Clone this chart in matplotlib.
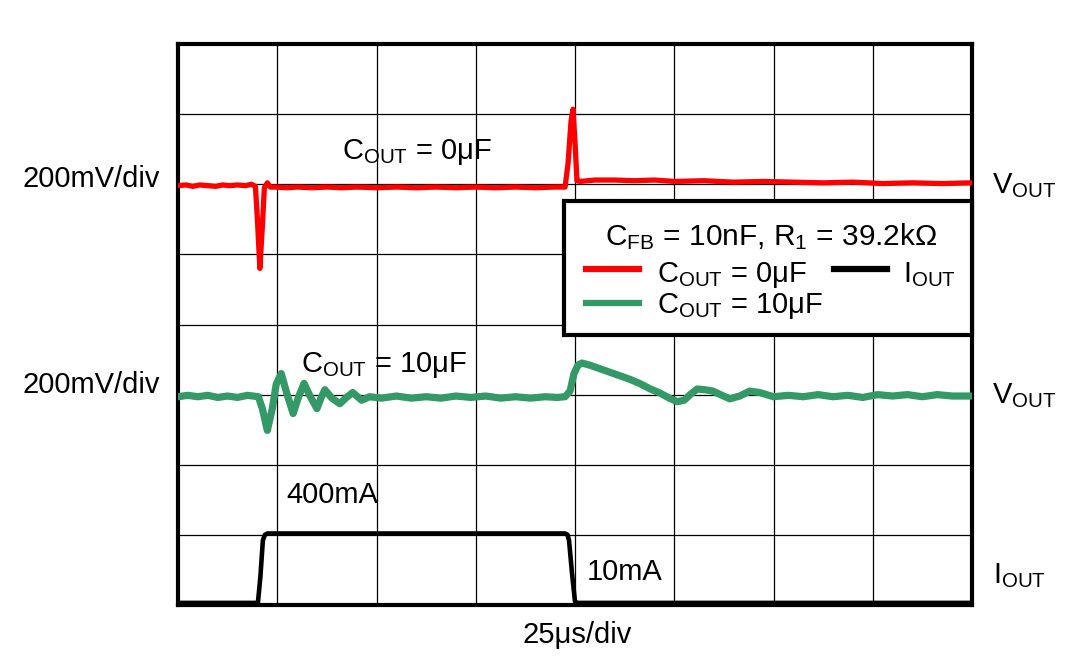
import matplotlib
matplotlib.use("Agg")
import matplotlib.pyplot as plt
import matplotlib.patches as patches
from matplotlib.lines import Line2D

plt.rcParams['font.family'] = ['Liberation Sans', 'DejaVu Sans']
plt.rcParams['mathtext.fontset'] = 'custom'
plt.rcParams['mathtext.rm'] = 'Liberation Sans'
plt.rcParams['mathtext.it'] = 'Liberation Sans:italic'
plt.rcParams['mathtext.bf'] = 'Liberation Sans:bold'

# time axis in divisions (25us/div), traces in divisions of screen height
t_red = [0.0, 0.08, 0.15, 0.22, 0.3, 0.38, 0.45, 0.52, 0.6, 0.68, 0.74, 0.78,
         0.80, 0.825, 0.85, 0.87, 0.90, 0.93, 1.0, 1.1, 1.2, 1.35, 1.5, 1.65,
         1.8, 2.0, 2.2, 2.4, 2.6, 2.8, 3.0, 3.2, 3.4, 3.6, 3.8, 3.90, 3.93,
         3.96, 3.98, 4.0, 4.02, 4.05, 4.2, 4.4, 4.6, 4.8, 5.0, 5.3, 5.6, 5.9,
         6.2, 6.5, 6.8, 7.1, 7.4, 7.7, 8.0]
v_red = [5.98, 5.99, 5.97, 5.99, 5.98, 5.97, 5.99, 5.98, 5.99, 5.98, 6.0, 5.97,
         5.5, 4.80, 5.4, 5.95, 6.02, 5.96, 5.96, 5.95, 5.96, 5.95, 5.96, 5.95,
         5.96, 5.95, 5.96, 5.95, 5.96, 5.95, 5.96, 5.95, 5.96, 5.95, 5.96, 5.96, 6.3,
         6.9, 7.07, 6.6, 6.05, 6.04, 6.06, 6.06, 6.05, 6.06, 6.04, 6.05, 6.03, 6.04,
         6.03, 6.02, 6.03, 6.01, 6.02, 6.01, 6.02]

t_green = [0.0, 0.1, 0.2, 0.3, 0.4, 0.5, 0.6, 0.7, 0.81, 0.85, 0.90, 0.95,
           0.99, 1.04, 1.10, 1.16, 1.21, 1.27, 1.33, 1.40, 1.44, 1.48, 1.55,
           1.63, 1.69, 1.76, 1.85, 1.93, 2.05, 2.2, 2.35, 2.5, 2.65, 2.8, 2.95,
           3.1, 3.25, 3.4, 3.55, 3.7, 3.82, 3.90, 3.95, 3.99, 4.03, 4.07, 4.15,
           4.25, 4.35, 4.45, 4.55, 4.65, 4.76, 4.86, 4.95, 5.03, 5.10, 5.16,
           5.23, 5.31, 5.39, 5.48, 5.56, 5.66, 5.76, 5.86, 6.0, 6.15, 6.3, 6.45,
           6.6, 6.75, 6.9, 7.05, 7.2, 7.35, 7.5, 7.65, 7.8, 8.0]
v_green = [2.97, 2.99, 2.97, 2.99, 2.96, 2.98, 2.96, 2.99, 2.97, 2.80, 2.49, 2.80,
           3.15, 3.30, 3.00, 2.73, 2.95, 3.16, 2.98, 2.80, 2.95, 3.07, 2.95,
           2.87, 2.95, 3.03, 2.92, 2.97, 2.95, 2.98, 2.95, 2.97, 2.95, 2.98, 2.96,
           2.98, 2.95, 2.97, 2.95, 2.97, 2.96, 2.97, 3.05, 3.30, 3.42, 3.45, 3.42,
           3.37, 3.32, 3.27, 3.22, 3.16, 3.08, 3.02, 2.95, 2.90, 2.92, 3.0,
           3.08, 3.07, 3.05, 2.99, 2.94, 2.98, 3.05, 3.03, 2.97, 2.99, 2.97, 3.0,
           2.97, 2.99, 2.96, 3.0, 2.98, 3.0, 2.97, 3.0, 2.98, 2.98]

t_black = [0.0, 0.805, 0.83, 0.855, 0.875, 0.9, 2.0, 3.9, 3.925, 3.94, 3.97, 4.0, 4.02, 8.0]
i_black = [0.03, 0.03, 0.40, 0.92, 1.0, 1.02, 1.02, 1.02, 1.0, 0.92, 0.45, 0.05, 0.03, 0.03]

W, H = 1077, 668


def fx(x):
    return x / W


def fy(y):
    return 1 - y / H


fig = plt.figure(figsize=(W / 100, H / 100), dpi=100)
ax = fig.add_axes([fx(178), fy(605), (972 - 178) / W, (605 - 44) / H])
ax.set_xlim(0, 8)
ax.set_ylim(0, 8)
ax.set_xticks(range(9))
ax.set_yticks(range(9))
ax.tick_params(length=0, labelbottom=False, labelleft=False)
ax.grid(True, color='black', linewidth=0.9)
ax.set_axisbelow(True)
for s in ax.spines.values():
    s.set_linewidth(3)

ax.plot(t_red, v_red, color='#ff0000', linewidth=3.8, solid_joinstyle='round', zorder=3)
ax.plot(t_green, v_green, color='#339966', linewidth=5.2, solid_joinstyle='round', zorder=3)
ax.plot(t_black, i_black, color='black', linewidth=3.3, solid_joinstyle='round', zorder=3)

fs = 21
# in-plot annotations
fig.text(fx(342), fy(159), r'C$_{\rm OUT}$ = 0μF', fontsize=fs, va='baseline')
fig.text(fx(301), fy(372), r'C$_{\rm OUT}$ = 10μF', fontsize=fs, va='baseline')
fig.text(fx(286), fy(503), '400mA', fontsize=fs, va='baseline')
fig.text(fx(587), fy(580), '10mA', fontsize=fs, va='baseline')

# outside labels
fig.text(fx(23), fy(187), '200mV/div', fontsize=fs, va='baseline')
fig.text(fx(23), fy(393), '200mV/div', fontsize=fs, va='baseline')
fig.text(fx(992), fy(193), r'V$_{\rm OUT}$', fontsize=fs, va='baseline')
fig.text(fx(992), fy(403), r'V$_{\rm OUT}$', fontsize=fs, va='baseline')
fig.text(fx(993), fy(583), r'I$_{\rm OUT}$', fontsize=fs, va='baseline')
fig.text(fx(522), fy(643), '25μs/div', fontsize=fs, va='baseline')

# legend box
box = patches.Rectangle((fx(564), fy(335)), (972 - 564) / W, (335 - 201) / H,
                        transform=fig.transFigure, facecolor='white',
                        edgecolor='black', linewidth=3, zorder=4)
fig.add_artist(box)
fig.text(fx(605), fy(245), r'C$_{\rm FB}$ = 10nF, R$_{\rm 1}$ = 39.2kΩ',
         fontsize=fs + 0.5, va='baseline', zorder=5)
for (x0, x1, y, c) in [(586, 639, 269, '#ff0000'), (586, 639, 303, '#339966'),
                       (834, 887, 269, 'black')]:
    fig.add_artist(Line2D([fx(x0), fx(x1)], [fy(y), fy(y)], color=c,
                          linewidth=4.5, transform=fig.transFigure, zorder=5))
fig.text(fx(657), fy(282), r'C$_{\rm OUT}$ = 0μF', fontsize=fs, va='baseline', zorder=5)
fig.text(fx(657), fy(313), r'C$_{\rm OUT}$ = 10μF', fontsize=fs, va='baseline', zorder=5)
fig.text(fx(903), fy(282), r'I$_{\rm OUT}$', fontsize=fs, va='baseline', zorder=5)

fig.savefig('out.png', dpi=100)
